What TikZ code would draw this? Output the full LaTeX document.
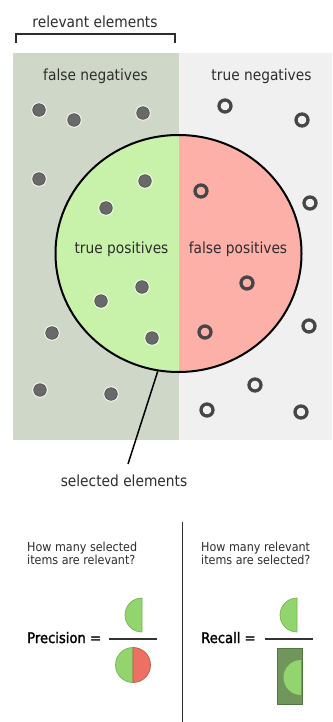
\documentclass[tikz,border=0pt]{standalone}
\usepackage{fontspec}
\setmainfont{DejaVu Sans}[FakeStretch=0.9]
\newfontface\formulafont[FakeStretch=0.9, FakeBold=1.6]{DejaVu Sans}
\usetikzlibrary{shapes.geometric}

\definecolor{txt}{RGB}{45,45,45}
\definecolor{relbg}{RGB}{207,216,200}
\definecolor{negbg}{RGB}{240,240,240}
\definecolor{tpgreen}{RGB}{200,242,170}
\definecolor{fpred}{RGB}{252,176,168}
\definecolor{dotfill}{RGB}{105,105,105}
\definecolor{dotedge}{RGB}{80,80,80}
\definecolor{ringcol}{RGB}{70,70,70}
\definecolor{hgreen}{RGB}{146,212,110}
\definecolor{hgreenedge}{RGB}{118,180,88}
\definecolor{hred}{RGB}{236,112,100}
\definecolor{hrededge}{RGB}{196,84,74}
\definecolor{boxgreen}{RGB}{112,150,92}
\definecolor{boxedge}{RGB}{84,116,68}

\begin{document}
\begin{tikzpicture}[x=1pt,y=-1pt,
  lbl/.style={font=\fontsize{15.3}{17}\selectfont, text=txt, inner sep=0pt, anchor=base},
  qtext/.style={font=\fontsize{12.4}{14}\selectfont, text=txt, inner sep=0pt, anchor=base west},
  formula/.style={font=\formulafont\fontsize{14.6}{16}\selectfont, text=black, inner sep=0pt, anchor=base west},
  dot/.style={fill=dotfill, draw=dotedge, line width=0.6pt},
  halo/.style={fill=white, fill opacity=0.7},
  ring/.style={draw=ringcol, line width=3.3pt},
  fracline/.style={draw=black!80, line width=1.3pt},
  halfg/.style={fill=hgreen, draw=hgreenedge, line width=0.7pt},
  halfr/.style={fill=hred, draw=hrededge, line width=0.7pt}]

\useasboundingbox[fill=white] (0,0) rectangle (332,722);

% background panels: relevant / not relevant
\fill[relbg] (13,53) rectangle (178.5,440);
\fill[negbg] (178.5,53) rectangle (332,440);

% bracket over the relevant elements
\coordinate (brl) at (16,43);
\coordinate (brr) at (175,43);
\draw[line width=1.8pt, txt] (brl) -- ++(0,-9) -- ++(159,0) -- (brr);
\node[lbl] (relevant) at (95,27.5) {relevant elements};

% selected elements: split ellipse
\node[ellipse, draw=black, line width=2pt, minimum width=246, minimum height=237, inner sep=0pt,
  path picture={
    \fill[tpgreen] (path picture bounding box.south west) rectangle (path picture bounding box.north);
    \fill[fpred] (path picture bounding box.south east) rectangle (path picture bounding box.north);
  }] (sel) at (178.5,253.5) {};

% relevant items (filled dots)
\foreach \p in {(39,110),(74,120),(143,113),(39,179),(145,181),(106,208),
                (142,287),(101,301),(52,333),(152,338),(40,390),(111,394)} {
  \fill[halo] \p circle (7.8);
  \filldraw[dot] \p circle (6.3);
}

% irrelevant items (rings)
\foreach \p in {(225,106),(302,120),(201,191),(310,203),(247,283),(205,332),
                (309,326),(255,385),(207,410),(301,412)} {
  \draw[ring] \p circle (6);
}

% region labels
\node[lbl] (fn) at (95.5,80.5) {false negatives};
\node[lbl] (tn) at (261.5,80.5) {true negatives};
\node[lbl] (tp) at (121.5,253) {true positives};
\node[lbl] (fp) at (238,253) {false positives};

% pointer to the selection
\node[lbl] (selected) at (124,486.5) {selected elements};
\coordinate (selend) at (128,464);
\draw[line width=1.5pt, black] (sel.260) -- (selend);

% divider between the two formulas
\coordinate (vtop) at (182,522);
\coordinate (vbot) at (182,722);
\draw[line width=1pt, txt] (vtop) -- (vbot);

% precision
\node[qtext] (pq1) at (27,551) {How many selected};
\node[qtext] (pq2) at (27,564) {items are relevant?};
\node[formula] (prec) at (27,643) {Precision =};
\coordinate (pf1) at (109,639);
\coordinate (pf2) at (157,639);
\draw[fracline] (pf1) -- (pf2);
\filldraw[halfg] (142,598) arc[start angle=270, end angle=90, radius=17] -- cycle;
\filldraw[halfg] (133,647.5) arc[start angle=270, end angle=90, radius=17.5] -- cycle;
\filldraw[halfr] (133,647.5) arc[start angle=-90, end angle=90, radius=17.5] -- cycle;

% recall
\node[qtext] (rq1) at (201,551) {How many relevant};
\node[qtext] (rq2) at (201,564) {items are selected?};
\node[formula] (rec) at (201,643) {Recall =};
\coordinate (rf1) at (265,639);
\coordinate (rf2) at (313,639);
\draw[fracline] (rf1) -- (rf2);
\filldraw[halfg] (297,598) arc[start angle=270, end angle=90, radius=17] -- cycle;
\filldraw[fill=boxgreen, draw=boxedge, line width=0.8pt] (277,648) rectangle (302,704);
\fill[hgreen] (301,660) arc[start angle=270, end angle=90, radius=17.5] -- cycle;

\end{tikzpicture}
\end{document}
